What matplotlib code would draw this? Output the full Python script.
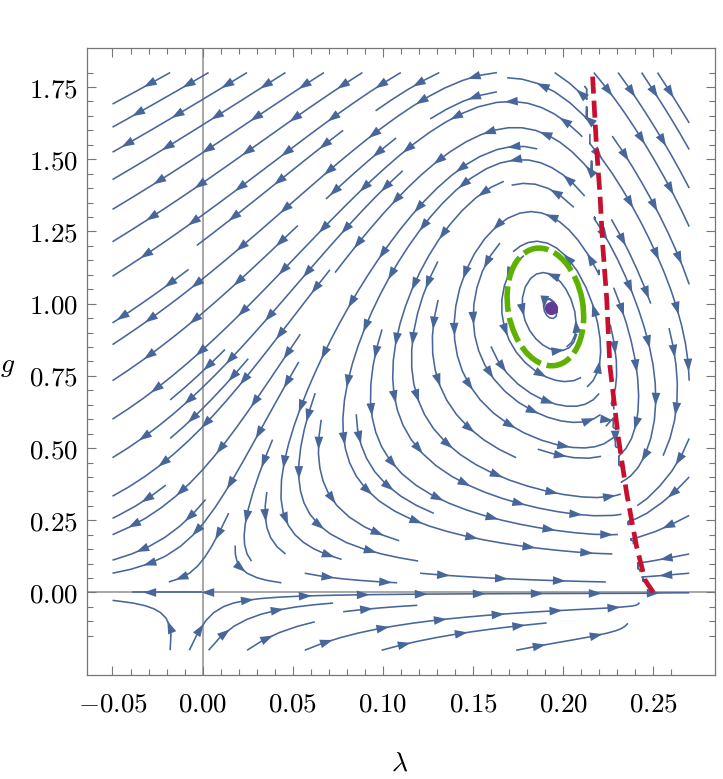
import numpy as np
import matplotlib.pyplot as plt
from matplotlib.patches import Ellipse, FancyArrowPatch
from matplotlib.transforms import ScaledTranslation
from matplotlib.ticker import FixedLocator

plt.rcParams['mathtext.fontset'] = 'cm'

# flow of (lambda, g) towards the IR, eta = g*B1 / (1 - g*B2)
B1_CONST = -0.25
B1_POLE = -0.0672
B2_POLE = 0.0128
H0 = 0.2316
H1 = -0.277

lam_range = (-0.05, 0.27)
g_range = (-0.2, 1.8)

fixed_point = (0.1931, 0.984)

# singular line (red dashed)
red_lam = [0.2164, 0.2186, 0.2205, 0.2220, 0.2242, 0.2260, 0.2306, 0.2353, 0.2408, 0.2455, 0.2501]
red_g = [1.786, 1.538, 1.376, 1.203, 1.019, 0.784, 0.539, 0.343, 0.159, 0.043, 0.0]

# green closed curve around the fixed point (centre in data, size in pixels)
ellipse_center = (0.1902, 0.9886)
ellipse_size_px = (118.8, 74.8)
ellipse_angle = 100.2

x_ticks = [-0.05, 0.0, 0.05, 0.10, 0.15, 0.20, 0.25]
x_labels = ['$-0.05$', '$0.00$', '$0.05$', '$0.10$', '$0.15$', '$0.20$', '$0.25$']
y_ticks = [0.0, 0.25, 0.5, 0.75, 1.0, 1.25, 1.5, 1.75]
y_labels = ['$0.00$', '$0.25$', '$0.50$', '$0.75$', '$1.00$', '$1.25$', '$1.50$', '$1.75$']

STREAM_COLOR = '#47669a'


def flow(lam, g):
    s = np.clip(1 - 4 * lam, 0.01, None)
    b1 = B1_CONST + B1_POLE / s**2
    b2 = B2_POLE / s**2
    d = 1 - g * b2
    d = np.where(np.abs(d) < 1e-9, 1e-9, d)
    eta = g * b1 / d
    dlam = (2 - eta) * lam - g * (H0 + H1 * eta)
    dg = -(2 + eta) * g
    return dlam, dg


lam = np.linspace(*lam_range, 241)
g = np.linspace(*g_range, 241)
LAM, G = np.meshgrid(lam, g)
U, V = flow(LAM, G)
# direction only, measured in screen units
n = np.hypot(U * 1800, V * 289)
n[n == 0] = 1
U = U / n
V = V / n

fig = plt.figure(figsize=(7.23, 7.79), dpi=100)
ax = fig.add_axes([0.1207, 0.1335, 0.8682, 0.8045])
ax.set_xlim(-0.064, 0.2843)
ax.set_ylim(-0.2857, 1.884)

ax.axhline(0, color='#a0a0a0', lw=1.3, zorder=1)
ax.axvline(0, color='#a0a0a0', lw=1.3, zorder=1)

strm = ax.streamplot(LAM, G, U, V, density=1.05, color=STREAM_COLOR, linewidth=1.15,
                     arrowsize=1.0, maxlength=4.0, zorder=2)
# replace the single arrow per line by arrows every ~58 px (Mathematica look)
for p in list(ax.patches):
    p.remove()

segs = [np.asarray(s) for s in strm.lines.get_segments()]
if all(len(s) == 2 for s in segs):
    tracks = []
    cur = [segs[0][0], segs[0][1]]
    for a, b in zip(segs[:-1], segs[1:]):
        if np.allclose(b[0], a[1]):
            cur.append(b[1])
        else:
            tracks.append(np.array(cur))
            cur = [b[0], b[1]]
    tracks.append(np.array(cur))
else:
    tracks = segs

spacing, first = 58.0, 30.0
inv = ax.transData.inverted()
for tr in tracks:
    px = ax.transData.transform(tr)
    step = np.hypot(*np.diff(px, axis=0).T)
    cum = np.concatenate([[0], np.cumsum(step)])
    total = cum[-1]
    if total < 12:
        continue
    if total < first + 10:
        marks = [total * 0.6]
    else:
        marks = np.arange(first, total - 4, spacing)
    for dist in marks:
        head = [np.interp(dist, cum, px[:, 0]), np.interp(dist, cum, px[:, 1])]
        tail = [np.interp(dist - 6, cum, px[:, 0]), np.interp(dist - 6, cum, px[:, 1])]
        h, t = inv.transform([head, tail])
        ax.add_patch(FancyArrowPatch(t, h, arrowstyle='-|>,head_length=0.62,head_width=0.21',
                                     mutation_scale=15, color=STREAM_COLOR, lw=0,
                                     shrinkA=0, shrinkB=0, zorder=3))

ax.plot(red_lam, red_g, color='#c8102e', lw=3.4, linestyle=(0, (3.6, 1.5)), zorder=4)

trans = fig.dpi_scale_trans + ScaledTranslation(*ellipse_center, ax.transData)
ell = Ellipse((0, 0), ellipse_size_px[0] / 100, ellipse_size_px[1] / 100, angle=ellipse_angle,
              transform=trans, fill=False, edgecolor='#5db100', lw=4.0,
              linestyle=(0, (4.6, 1.1)), zorder=4)
ax.add_patch(ell)

ax.plot(*fixed_point, 'o', color='#653a96', markersize=8.5, zorder=5)

ax.set_xticks(x_ticks, labels=x_labels, fontsize=19.5)
ax.set_yticks(y_ticks, labels=y_labels, fontsize=19.5)
ax.xaxis.set_minor_locator(FixedLocator(np.arange(-0.05, 0.265, 0.01)))
ax.yaxis.set_minor_locator(FixedLocator(np.arange(-0.15, 1.81, 0.05)))
ax.tick_params(which='both', direction='in', top=True, right=True, color='#777777', width=0.8)
ax.tick_params(which='major', length=6.5)
ax.tick_params(which='minor', length=4)
ax.tick_params(axis='x', pad=12)
ax.tick_params(axis='y', pad=7)
for sp in ax.spines.values():
    sp.set_color('#777777')
    sp.set_linewidth(0.9)

fig.text(400 / 723, 1 - 763 / 779, r'$\lambda$', fontsize=20, ha='center', va='center')
fig.text(8 / 723, 1 - 365 / 779, r'$g$', fontsize=20, ha='center', va='center')

fig.savefig('out.png', dpi=100)
